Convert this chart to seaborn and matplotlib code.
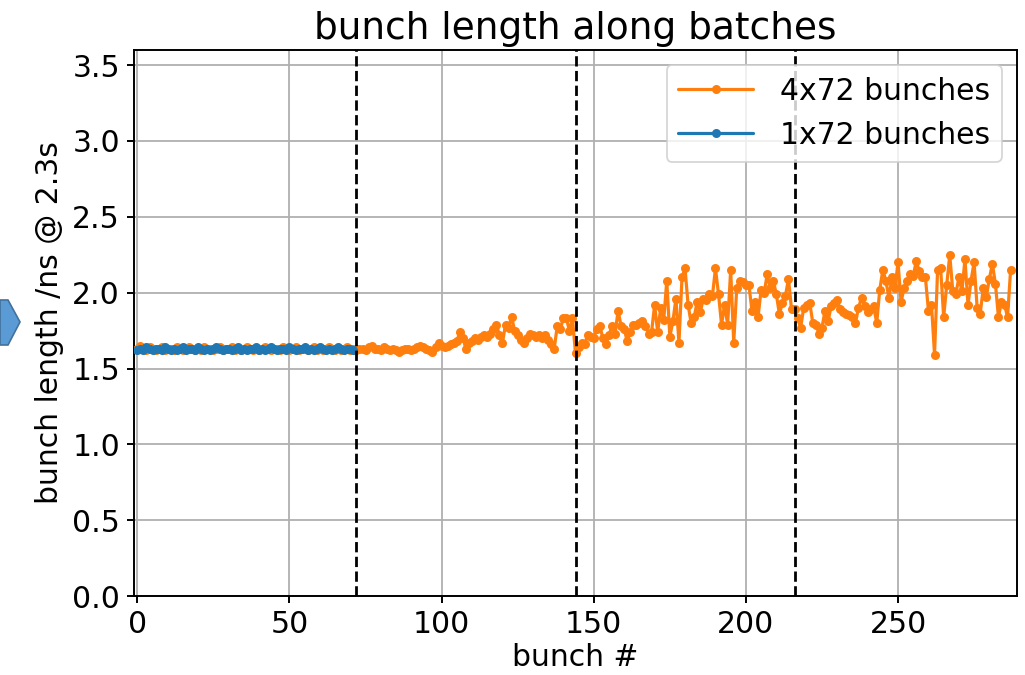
import numpy as np
import pandas as pd
import matplotlib
matplotlib.use("Agg")
import matplotlib.pyplot as plt
import seaborn as sns
from matplotlib.patches import Polygon

# ---------------- data ----------------
title = "bunch length along batches"
xlabel = "bunch #"
ylabel = "bunch length /ns @ 2.3s"
label_4x72 = "4x72 bunches"
label_1x72 = "1x72 bunches"
batch_edges = [72, 144, 216]

orange_batch1 = [
    1.63, 1.65, 1.63, 1.62, 1.64, 1.63, 1.62, 1.63, 1.64, 1.62,
    1.63, 1.63, 1.62, 1.64, 1.63, 1.62, 1.63, 1.64, 1.63, 1.62,
    1.63, 1.62, 1.64, 1.63, 1.63, 1.62, 1.63, 1.64, 1.62, 1.63,
    1.63, 1.64, 1.62, 1.63, 1.62, 1.63, 1.64, 1.63, 1.62, 1.63,
    1.62, 1.63, 1.64, 1.63, 1.62, 1.63, 1.63, 1.62, 1.64, 1.63,
    1.62, 1.63, 1.64, 1.62, 1.63, 1.63, 1.62, 1.63, 1.64, 1.62,
    1.63, 1.62, 1.63, 1.64, 1.63, 1.62, 1.63, 1.62, 1.63, 1.64,
    1.62, 1.63,
]
orange_batch2 = [
    1.62, 1.63, 1.63, 1.62, 1.64, 1.65, 1.63, 1.63, 1.62, 1.64,
    1.63, 1.62, 1.63, 1.62, 1.61, 1.62, 1.63, 1.63, 1.62, 1.63,
    1.64, 1.65, 1.64, 1.63, 1.62, 1.61, 1.64, 1.67,
    1.65, 1.64, 1.65, 1.66, 1.67, 1.68, 1.74, 1.70, 1.63, 1.67,
    1.68, 1.70, 1.69, 1.71, 1.72, 1.71, 1.73, 1.76, 1.79, 1.72,
    1.67, 1.79, 1.77, 1.84, 1.75, 1.72, 1.69, 1.67, 1.70, 1.73,
    1.72, 1.71, 1.72, 1.70, 1.72, 1.69, 1.66, 1.63, 1.78, 1.76,
    1.83, 1.83, 1.75, 1.83,
]
orange_batch3 = [
    1.60, 1.64, 1.67, 1.66, 1.72, 1.71, 1.70, 1.76, 1.78, 1.70,
    1.66, 1.72, 1.78, 1.73, 1.88, 1.78, 1.76, 1.68, 1.74, 1.79,
    1.79, 1.80, 1.81, 1.78, 1.73, 1.74, 1.92, 1.74, 1.90, 1.82,
    2.08, 1.71, 1.81, 1.96, 1.67, 2.10, 2.16, 1.92, 1.80,
    1.84, 1.94, 1.87, 1.96, 1.95, 1.99, 1.98, 2.16, 1.99, 1.79,
    1.92, 1.79, 2.15, 1.67, 2.03, 2.08, 2.07, 2.05, 2.05, 1.88,
    1.94, 1.84, 2.02, 2.00, 2.12, 2.03, 2.08, 1.99, 1.86, 1.93,
    1.98, 2.09,
]
orange_batch4 = [
    1.89, 1.89, 1.83, 1.77, 1.90, 1.92, 1.93,
    1.80, 1.79, 1.73, 1.77, 1.88, 1.81, 1.91, 1.93, 1.95, 1.89,
    1.87, 1.86, 1.855, 1.84, 1.80, 1.90, 1.965, 1.91, 1.87, 1.89,
    1.91, 1.80, 2.02, 2.15, 2.08, 1.965, 2.10, 2.03, 2.20, 1.94,
    2.03, 2.08, 2.12,
    2.11, 2.21, 2.14, 2.10, 2.10, 1.88, 1.92, 1.59, 2.15, 2.16,
    1.84, 2.05, 2.25, 2.01, 1.99, 2.10, 2.01, 2.22, 1.92, 2.08,
    2.20, 1.90, 1.86, 2.03, 1.97, 2.09, 2.19, 2.06, 1.84, 1.94,
    1.92, 1.84, 2.15,
]
orange_values = orange_batch1 + orange_batch2 + orange_batch3 + orange_batch4

blue_values = [
    1.62, 1.63, 1.62, 1.64, 1.63, 1.62, 1.63, 1.63, 1.62, 1.64,
    1.63, 1.62, 1.63, 1.62, 1.63, 1.64, 1.62, 1.63, 1.63, 1.62,
    1.64, 1.63, 1.62, 1.63, 1.62, 1.63, 1.64, 1.63, 1.62, 1.63,
    1.63, 1.62, 1.63, 1.64, 1.62, 1.63, 1.62, 1.63, 1.63, 1.64,
    1.62, 1.63, 1.62, 1.63, 1.64, 1.63, 1.62, 1.63, 1.63, 1.62,
    1.64, 1.63, 1.62, 1.63, 1.63, 1.64, 1.62, 1.63, 1.62, 1.63,
    1.64, 1.63, 1.62, 1.63, 1.62, 1.63, 1.64, 1.63, 1.62, 1.63,
    1.63, 1.62,
]

xticks = [0, 50, 100, 150, 200, 250]
yticks = [0.0, 0.5, 1.0, 1.5, 2.0, 2.5, 3.0, 3.5]

df_orange = pd.DataFrame({"bunch": np.arange(len(orange_values)), "length": orange_values})
df_blue = pd.DataFrame({"bunch": np.arange(len(blue_values)), "length": blue_values})

# ---------------- style ----------------
sns.set_theme(style="ticks")
plt.rcParams["font.family"] = ["DejaVu Sans"]
plt.rcParams["axes.edgecolor"] = "black"
plt.rcParams["xtick.color"] = "black"
plt.rcParams["ytick.color"] = "black"
plt.rcParams["text.color"] = "black"
plt.rcParams["axes.labelcolor"] = "black"

W, H = 1025, 675
fig = plt.figure(figsize=(W / 100, H / 100), dpi=100)
L, R, T, B = 134, 1017, 50, 596
ax = fig.add_axes([L / W, 1 - B / H, (R - L) / W, (B - T) / H])

ORANGE = "#ff7f0e"
BLUE = "#1f77b4"

ax.grid(True, color="#b0b0b0", linewidth=1.3, zorder=0)
ax.set_axisbelow(True)

sns.lineplot(data=df_orange, x="bunch", y="length", ax=ax, color=ORANGE,
             marker=".", markersize=13, markeredgewidth=0, linewidth=2.3,
             label=label_4x72, zorder=3)
sns.lineplot(data=df_blue, x="bunch", y="length", ax=ax, color=BLUE,
             marker=".", markersize=13, markeredgewidth=0, linewidth=2.3,
             label=label_1x72, zorder=4)

for xe in batch_edges:
    ax.axvline(xe, color="black", linestyle="--", linewidth=2.0, zorder=5)

ax.set_xlim(-1.1, 289.1)
ax.set_ylim(0, 3.6)
ax.set_xticks(xticks)
ax.set_yticks(yticks)
ax.set_yticklabels([f"{v:.1f}" for v in yticks])

fs = 21.5
ax.tick_params(axis="both", labelsize=fs, length=5, width=1.4, direction="out", pad=5)
for sp in ax.spines.values():
    sp.set_visible(True)
    sp.set_linewidth(1.4)
    sp.set_color("black")

ax.set_title(title, fontsize=27, pad=8)
ax.set_xlabel(xlabel, fontsize=fs, labelpad=3)
ax.set_ylabel(ylabel, fontsize=fs, labelpad=6)

leg = ax.legend(loc="upper right", fontsize=fs, frameon=True, fancybox=True,
                framealpha=0.8, edgecolor="#cccccc", borderaxespad=0.5,
                handlelength=2.5, handletextpad=0.9)
leg.get_frame().set_linewidth(1.3)

# decorative arrow at left edge (slide artifact)
pts = [(0, 300), (8, 300), (20, 322), (8, 345), (0, 345)]
poly = Polygon([(px / W, 1 - py / H) for px, py in pts], closed=True,
               transform=fig.transFigure, facecolor="#5b9bd5",
               edgecolor="#41719c", linewidth=1.2)
fig.patches.append(poly)

fig.savefig("out.png", dpi=100)
